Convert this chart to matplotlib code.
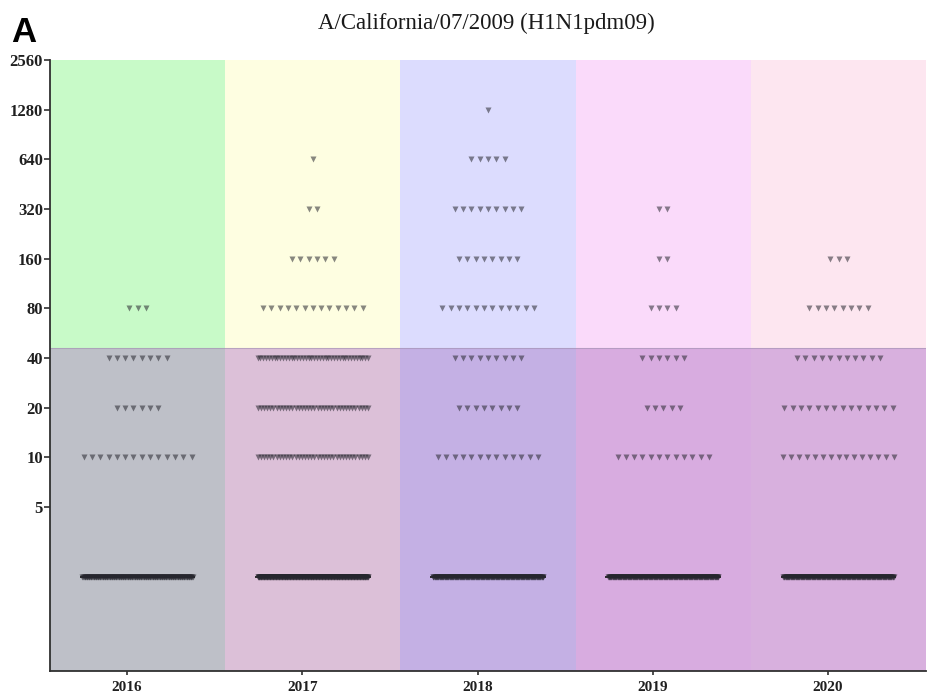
import numpy as np
import matplotlib.pyplot as plt

# HI titres per season, counted row by row (titre level -> number of sera)
years = ['2016', '2017', '2018', '2019', '2020']
row_titers = [1280, 640, 320, 160, 80, 40, 20, 10]
counts_2016 = [0, 0, 0, 0, 3, 8, 6, 14]
counts_2017 = [0, 1, 2, 6, 13, 40, 36, 36]
counts_2018 = [1, 5, 9, 8, 12, 9, 8, 13]
counts_2019 = [0, 0, 2, 2, 4, 6, 5, 12]
counts_2020 = [0, 0, 0, 3, 8, 11, 14, 15]
# sera below the detection limit, drawn on their own row under 5
negatives = [160, 260, 200, 200, 200]
neg_level = 1.9

tick_values = [2560, 1280, 640, 320, 160, 80, 40, 20, 10, 5]
tick_labels = ['2560', '1280', '640', '320', '160', '80', '40', '20', '10', '5']

upper_colors = ['#c8fac8', '#fefee1', '#dcdcfe', '#fadafa', '#fde6f0']
lower_colors = ['#bec0c8', '#dcc0d8', '#c4b0e4', '#d8ace0', '#d8b0de']
cutoff = 46

all_counts = [counts_2016, counts_2017, counts_2018, counts_2019, counts_2020]

fig = plt.figure(figsize=(9.35, 6.98), dpi=100)
ax = fig.add_axes([0.0535, 0.039, 0.937, 0.875])
ax.set_yscale('log', base=2)
ax.set_xlim(-0.5, 4.5)
ax.set_ylim(0.51, 2560)

for i in range(len(years)):
    ax.fill_between([i - 0.5, i + 0.5], cutoff, 2560, color=upper_colors[i], lw=0, zorder=0)
    ax.fill_between([i - 0.5, i + 0.5], 0.51, cutoff, color=lower_colors[i], lw=0, zorder=0)
ax.axhline(cutoff, color='#a090b0', lw=0.8, alpha=0.6, zorder=1)

step = 0.0475
cap = 0.63

def draw_row(x, y, n):
    if n == 0:
        return
    gap = step if n < 2 else min(step, cap / (n - 1))
    xs = x + (np.arange(n) - (n - 1) / 2) * gap
    ax.plot(xs, np.full(n, y), 'v', ms=4.8, color='#26262e', alpha=0.55,
            mec='none', zorder=3)

for i, counts in enumerate(all_counts):
    values = []
    for t, n in zip(row_titers, counts):
        draw_row(i, t, n)
        values += [t] * n
    draw_row(i, neg_level, negatives[i])
    values += [neg_level] * negatives[i]
    med = np.median(values)
    ax.hlines(med, i - 0.33, i + 0.33, color='#202020', lw=1.3, zorder=2)

ax.set_yticks(tick_values)
ax.set_yticklabels(tick_labels)
ax.minorticks_off()
ax.set_xticks(np.arange(len(years)) - 0.06)
ax.set_xticklabels(years)

for s in ['top', 'right']:
    ax.spines[s].set_visible(False)
for s in ['left', 'bottom']:
    ax.spines[s].set_color('#303030')
    ax.spines[s].set_linewidth(1.3)
ax.tick_params(axis='y', length=4, width=1.2, color='#303030', pad=1)
ax.tick_params(axis='x', length=3, width=1.2, color='#303030', pad=4)
for lab in ax.get_yticklabels():
    lab.set_fontsize(12)
for lab in ax.get_xticklabels():
    lab.set_fontsize(11)
for lab in ax.get_yticklabels() + ax.get_xticklabels():
    lab.set_fontfamily('Liberation Serif')
    lab.set_fontweight('bold')
    lab.set_color('#202020')

fig.text(0.52, 0.967, 'A/California/07/2009 (H1N1pdm09)', ha='center', va='center',
         fontsize=16.5, family='Liberation Serif', color='#1a1a1a')
fig.text(0.012, 0.954, 'A', ha='left', va='center', fontsize=25,
         family='Liberation Sans', fontweight='bold')

plt.savefig('out.png', dpi=100)
